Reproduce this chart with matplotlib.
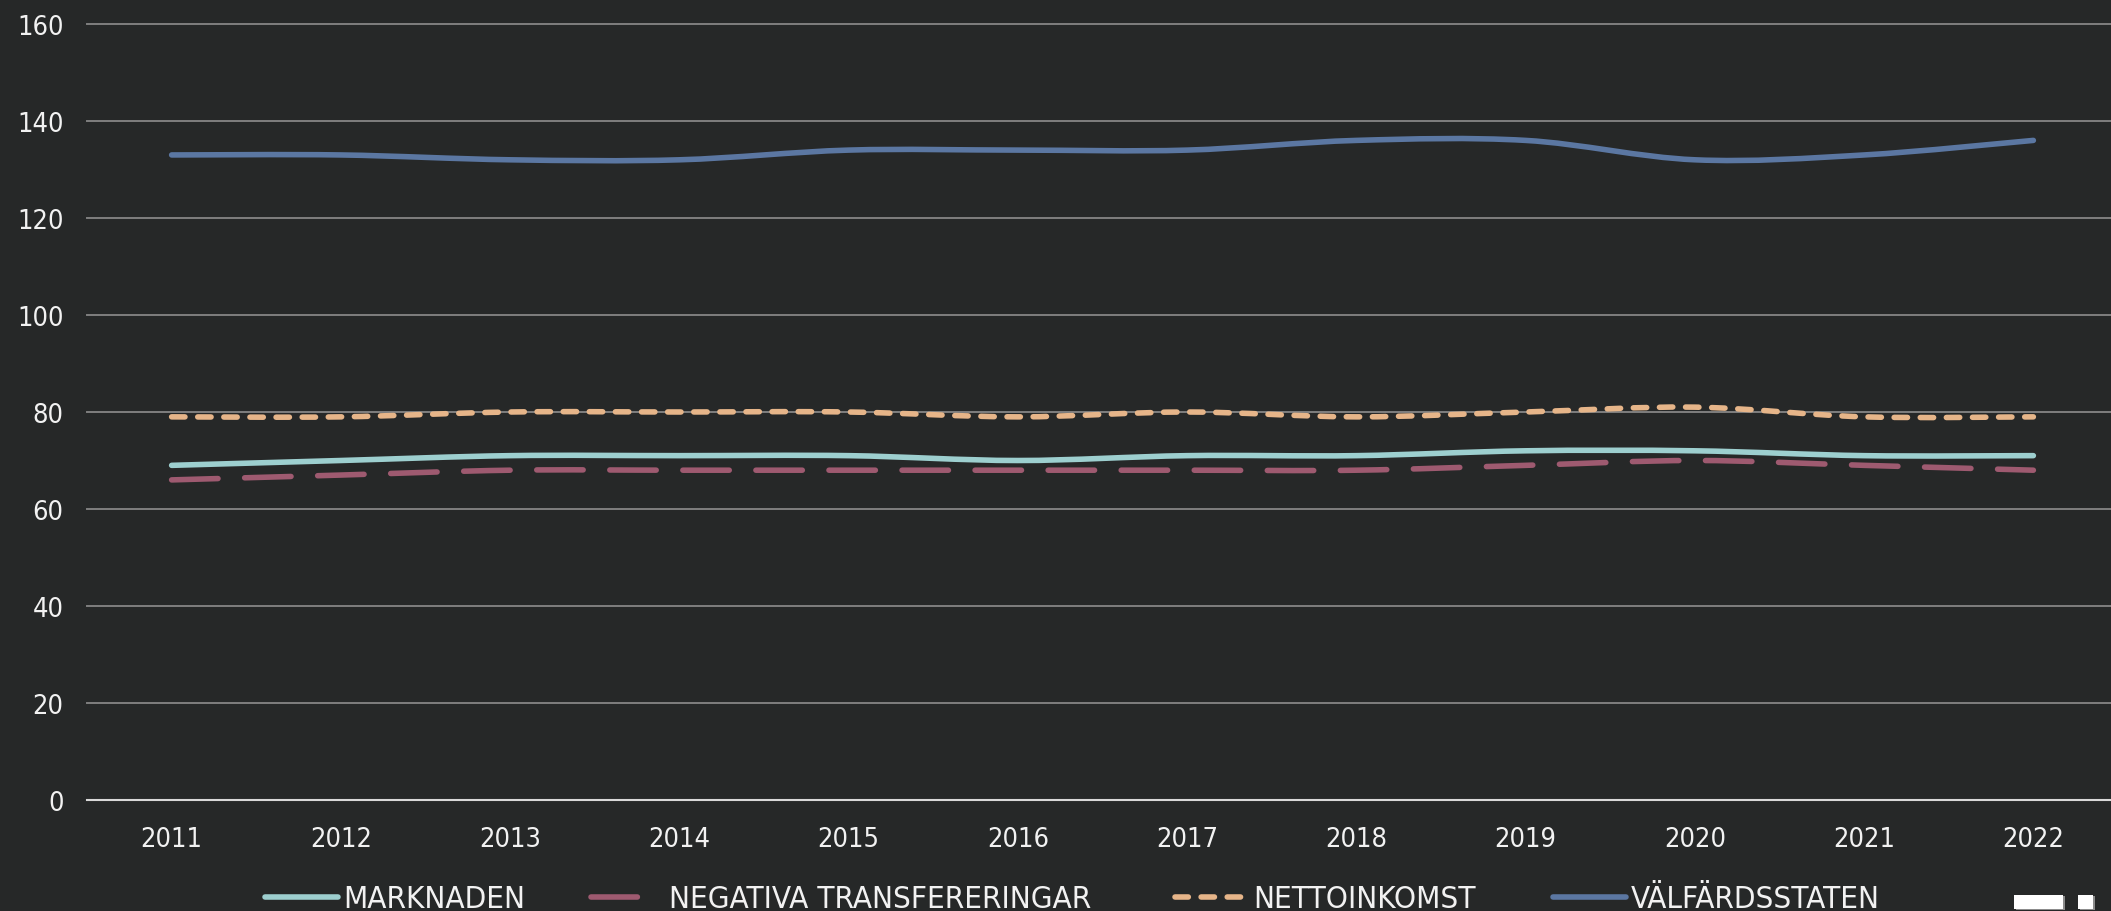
import numpy as np
import matplotlib
matplotlib.use("Agg")
import matplotlib.pyplot as plt
from matplotlib.path import Path
from matplotlib.patches import PathPatch, Rectangle
from matplotlib.lines import Line2D
from matplotlib.font_manager import FontProperties

# ---------------- data ----------------
years = ["2011", "2012", "2013", "2014", "2015", "2016",
         "2017", "2018", "2019", "2020", "2021", "2022"]
marknaden = [69, 70, 71, 71, 71, 70, 71, 71, 72, 72, 71, 71]
negativa = [66, 67, 68, 68, 68, 68, 68, 68, 69, 70, 69, 68]
nettoinkomst = [79, 79, 80, 80, 80, 79, 80, 79, 80, 81, 79, 79]
valfardsstaten = [133, 133, 132, 132, 134, 134, 134, 136, 136, 132, 133, 136]
series_names = ["MARKNADEN", "NEGATIVA TRANSFERERINGAR", "NETTOINKOMST", "VÄLFÄRDSSTATEN"]
y_ticks = [0, 20, 40, 60, 80, 100, 120, 140, 160]

# ---------------- style ----------------
W, H, DPI = 2111, 912, 100
BG = "#262828"
TXT = "#f2f2f2"
colors = ["#9dcfcf", "#9e5a70", "#e6b589", "#5b77a2"]
LW = 4.0
dash_styles = ["solid", (0, (8.35, 4.8)), (0, (2.4, 2.3)), "solid"]

tick_fp = FontProperties(family="DejaVu Sans", stretch="condensed", size=19.5)
leg_fp = FontProperties(family="DejaVu Sans", stretch="condensed", size=22.5)

fig = plt.figure(figsize=(W / DPI, H / DPI), dpi=DPI, facecolor=BG)
ax = fig.add_axes([87 / W, 111 / H, (2118 - 87) / W, (801 - 25) / H])
ax.set_facecolor(BG)

x = np.arange(len(years))
ax.set_xlim(-0.5, len(years) - 0.5)
ax.set_ylim(0, 160)


def smooth_path(xs, ys):
    pts = np.column_stack([xs, ys]).astype(float)
    n = len(pts)
    verts = [pts[0]]
    codes = [Path.MOVETO]
    for i in range(n - 1):
        p0 = pts[i - 1] if i > 0 else pts[i]
        p1 = pts[i]
        p2 = pts[i + 1]
        p3 = pts[i + 2] if i + 2 < n else pts[i + 1]
        c1 = p1 + (p2 - p0) / 6.0
        c2 = p2 - (p3 - p1) / 6.0
        verts += [c1, c2, p2]
        codes += [Path.CURVE4] * 3
    return Path(verts, codes)


all_series = [marknaden, negativa, nettoinkomst, valfardsstaten]
for vals, col, ls, name in zip(all_series, colors, dash_styles, series_names):
    patch = PathPatch(smooth_path(x, vals), fill=False, edgecolor=col, lw=LW,
                      linestyle=ls, capstyle="round", joinstyle="round",
                      label=name, zorder=3)
    ax.add_patch(patch)

# axes styling
ax.set_xticks(x)
ax.set_xticklabels(years)
ax.set_yticks(y_ticks)
ax.set_yticklabels([str(v) for v in y_ticks])
for lab in ax.get_xticklabels() + ax.get_yticklabels():
    lab.set_fontproperties(tick_fp)
    lab.set_color(TXT)
ax.tick_params(axis="both", length=0)
ax.tick_params(axis="x", pad=19)
ax.tick_params(axis="y", pad=17)
ax.yaxis.grid(True, color="#7f7f7f", lw=1.4, zorder=1)
ax.set_axisbelow(True)
for gl in ax.get_ygridlines():
    gl.set_clip_on(False)
for s in ["top", "right", "left"]:
    ax.spines[s].set_visible(False)
ax.spines["bottom"].set_color("#d9d9d9")
ax.spines["bottom"].set_linewidth(1.5)
ax.spines["bottom"].set_zorder(2)

# ---------------- legend (manual, figure pixel coords) ----------------
handle_x = [265, 591, 1175, 1553]
y_line = (H - 898) / H
for hx, col, ls, name in zip(handle_x, colors, dash_styles, series_names):
    ln = Line2D([hx / W, (hx + 73) / W], [y_line, y_line], transform=fig.transFigure,
                color=col, lw=LW, linestyle=ls, solid_capstyle="round",
                dash_capstyle="round")
    fig.add_artist(ln)
    fig.text((hx + 78) / W, (H - 908) / H, name, fontproperties=leg_fp,
             color=TXT, ha="left", va="baseline")

# truncated legend fragments at bottom right
for (x0, x1) in [(2014, 2063), (2078, 2093)]:
    fig.add_artist(Rectangle(((x0 + 1.5) / W, (H - 911) / H), (x1 - x0) / W, 14 / H,
                             transform=fig.transFigure, facecolor="#8c8c8c",
                             edgecolor="none"))
    fig.add_artist(Rectangle((x0 / W, (H - 909.5) / H), (x1 - x0) / W, 14 / H,
                             transform=fig.transFigure, facecolor="#ffffff",
                             edgecolor="none"))

fig.savefig("out.png", dpi=DPI, facecolor=BG)
